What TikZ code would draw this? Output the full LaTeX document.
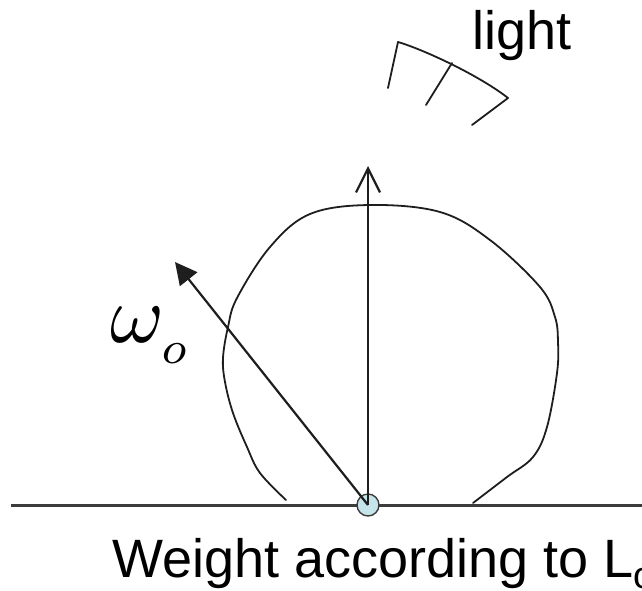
\documentclass[tikz,border=0pt]{standalone}
\usepackage{graphicx}
\usepackage{fontspec}
\setmainfont{Liberation Sans}
\usetikzlibrary{arrows.meta}
\definecolor{inkc}{HTML}{1E1E1E}
\definecolor{groundc}{HTML}{3C3C3C}
\definecolor{dotfill}{HTML}{C6E5EA}
\tikzset{
  curveline/.style={draw=inkc, line width=1.8pt, line cap=round, line join=round},
  rayline/.style={draw=inkc, line width=2.2pt},
  groundline/.style={draw=groundc, line width=3pt},
  pointdot/.style={circle, draw=groundc, line width=1.4pt, fill=dotfill, minimum size=22pt, inner sep=0pt},
  biglabel/.style={inner sep=0pt, anchor=base west, font=\fontsize{54}{60}\selectfont},
}
\begin{document}
\begin{tikzpicture}[x=1pt, y=-1pt]
\useasboundingbox (0,0) rectangle (642,590);
% ground
\coordinate (gl) at (11,505);
\coordinate (gr) at (645,505);
\draw[groundline] (gl) -- (gr);
% blob (lobe)
\draw[curveline] plot[smooth, tension=0.6] coordinates {
 (286,500) (260,473) (247,447) (233,413) (225,382) (223,358) (228,327) (237,298)
 (270,247) (310,214) (370,205) (440,212) (490,240) (540,287) (555,317) (558,342)
 (557,373) (547,427) (533,457) (507,477) (473,503)};
% light
\coordinate (la) at (398,42);
\coordinate (lb) at (452,63);
\coordinate (lc) at (508,98);
\draw[curveline] (la) .. controls (425,50) and (480,76) .. (lc);
\coordinate (ta) at (388,88);
\coordinate (tb) at (426,105);
\coordinate (tc) at (472,125);
\draw[curveline] (la) -- (ta);
\draw[curveline] (lb) -- (tb);
\draw[curveline] (lc) -- (tc);
\node[biglabel] (light) at (472,49) {light};
% point
\node[pointdot] (p) at (368,505) {};
\coordinate (tipv) at (368,166);
\coordinate (tipw) at (175,262);
\draw[rayline, -{Straight Barb[length=24pt, width=24pt, line width=2.2pt]}] (p.center) -- (tipv);
\draw[rayline, -{Triangle[length=22pt, width=22pt]}] (p.center) -- (tipw);
\node[inner sep=0pt, anchor=base west] (w) at (110,342)
  {\scalebox{8.2}{$\omega_{\raisebox{-1.1pt}{\scalebox{0.8}{$\scriptstyle o$}}}$}};
% caption
\node[biglabel] (cap) at (112,577) {Weight according to L\textsubscript{o}};
\end{tikzpicture}
\end{document}
